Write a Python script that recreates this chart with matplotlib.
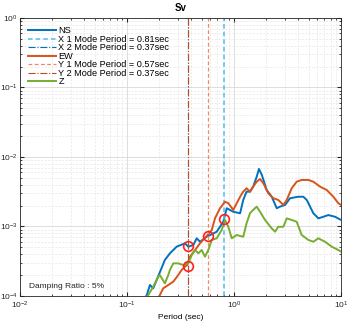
import matplotlib
matplotlib.use('Agg')
import matplotlib.pyplot as plt

# Spectral velocity
ns_period = [0.148, 0.153, 0.164, 0.176, 0.226, 0.252, 0.291, 0.348, 0.374, 0.417,
             0.448, 0.481, 0.556, 0.689, 0.794, 0.855, 0.984, 1.14, 1.22, 1.31,
             1.41, 1.51, 1.63, 1.71, 1.82, 2.02, 2.25, 2.51, 2.69, 3.0,
             3.34, 3.99, 4.44, 4.78, 5.51, 6.14, 6.84, 7.60, 8.79, 10.0]
ns_sv = [0.95e-4, 1.03e-4, 1.44e-4, 1.29e-4, 3.30e-4, 4.11e-4, 5.12e-4, 5.73e-4, 5.12e-4, 5.42e-4,
         6.76e-4, 6.04e-4, 7.13e-4, 8.41e-4, 1.17e-3, 1.83e-3, 1.63e-3, 1.55e-3, 2.41e-3, 3.17e-3,
         3.17e-3, 3.74e-3, 5.21e-3, 6.72e-3, 5.51e-3, 3.35e-3, 2.68e-3, 1.83e-3, 1.93e-3, 2.04e-3,
         2.55e-3, 2.68e-3, 2.68e-3, 2.41e-3, 1.55e-3, 1.31e-3, 1.38e-3, 1.46e-3, 1.38e-3, 1.24e-3]

ew_period = [0.195, 0.203, 0.218, 0.243, 0.271, 0.301, 0.324, 0.348, 0.366, 0.388,
             0.433, 0.481, 0.556, 0.620, 0.664, 0.740, 0.824, 0.885, 0.984, 1.06,
             1.14, 1.22, 1.31, 1.41, 1.51, 1.63, 1.75, 1.88, 2.09, 2.33,
             2.59, 2.89, 3.11, 3.46, 3.85, 4.29, 4.95, 5.51, 6.37, 7.35,
             8.47, 9.44, 10.0]
ew_sv = [0.94e-4, 1.03e-4, 1.29e-4, 1.44e-4, 1.61e-4, 2.0e-4, 2.37e-4, 2.64e-4, 2.79e-4, 3.68e-4,
         4.59e-4, 5.73e-4, 7.3e-4, 8.9e-4, 1.31e-3, 1.83e-3, 2.27e-3, 2.16e-3, 1.73e-3, 2.16e-3,
         2.68e-3, 3.17e-3, 3.55e-3, 3.17e-3, 3.74e-3, 4.41e-3, 4.82e-3, 4.18e-3, 3.0e-3, 2.55e-3,
         2.41e-3, 2.04e-3, 2.41e-3, 3.55e-3, 4.41e-3, 4.67e-3, 4.67e-3, 4.41e-3, 3.74e-3, 3.35e-3,
         2.68e-3, 2.16e-3, 2.04e-3]

z_period = [0.150, 0.158, 0.176, 0.196, 0.203, 0.226, 0.243, 0.252, 0.271, 0.301,
            0.336, 0.374, 0.403, 0.433, 0.464, 0.499, 0.536, 0.575, 0.620, 0.689,
            0.767, 0.824, 0.885, 0.953, 1.06, 1.14, 1.22, 1.31, 1.41, 1.51,
            1.63, 1.75, 1.95, 2.25, 2.42, 2.59, 2.89, 3.11, 3.46, 3.85,
            4.29, 4.95, 5.51, 6.14, 7.08, 8.19, 9.44, 10.0]
z_sv = [0.94e-4, 1.03e-4, 1.36e-4, 1.90e-4, 2.0e-4, 1.52e-4, 2.0e-4, 2.37e-4, 2.95e-4, 2.95e-4,
        2.79e-4, 2.95e-4, 3.89e-4, 4.59e-4, 4.11e-4, 4.59e-4, 3.68e-4, 4.59e-4, 6.4e-4, 6.76e-4,
        8.9e-4, 1.24e-3, 9.9e-4, 6.76e-4, 7.55e-4, 7.3e-4, 7.13e-4, 1.11e-3, 1.55e-3, 1.73e-3,
        1.93e-3, 1.63e-3, 1.24e-3, 9.4e-4, 8.41e-4, 9.9e-4, 9.9e-4, 1.31e-3, 1.24e-3, 1.17e-3,
        7.55e-4, 6.4e-4, 6.04e-4, 6.76e-4, 6.04e-4, 5.12e-4, 4.59e-4, 4.34e-4]

# mode periods and where they hit the spectra
x_modes = [0.81, 0.37]
y_modes = [0.57, 0.37]
mark_period = [0.37, 0.37, 0.57, 0.81]
mark_sv = [5.3e-4, 2.7e-4, 7.3e-4, 1.3e-3]

BLUE = '#0072BD'
LBLUE = '#4DBEEE'
ORANGE = '#D95319'
LORANGE = '#F08A5D'
GREEN = '#77AC30'

FONT = {'size': 6, 'family': 'Liberation Sans'}
matplotlib.rc('font', **FONT)

fig = plt.figure(figsize=(3.56, 3.26), dpi=100)
ax = fig.add_axes([0.056, 0.092, 0.902, 0.853])

ax.plot(ns_period, ns_sv, color=BLUE, lw=1.4, label='NS')
ax.axvline(x_modes[0], color=LBLUE, lw=1.1, ls=(0, (3, 2)),
           label='X 1 Mode Period = %.2fsec' % x_modes[0])
ax.axvline(x_modes[1], color=BLUE, lw=0.8, ls='-.',
           label='X 2 Mode Period = %.2fsec' % x_modes[1])
ax.plot(ew_period, ew_sv, color=ORANGE, lw=1.4, label='EW')
ax.axvline(y_modes[0], color=LORANGE, lw=0.9, ls=(0, (3, 2)),
           label='Y 1 Mode Period = %.2fsec' % y_modes[0])
ax.axvline(y_modes[1], color='#C24A1A', lw=0.8, ls='-.',
           label='Y 2 Mode Period = %.2fsec' % y_modes[1])
ax.plot(z_period, z_sv, color=GREEN, lw=1.4, label='Z')
ax.plot(mark_period, mark_sv, 'o', ms=7, mfc='none', mec='#FF2020', mew=1.2)

ax.set_xscale('log')
ax.set_yscale('log')
ax.set_xlim(1e-2, 10)
ax.set_ylim(1e-4, 1)
ax.grid(True, which='major', color='#d8d8d8', lw=0.6)
ax.grid(True, which='minor', color='#e6e6e6', lw=0.5, ls=(0, (3, 2)))
ax.set_axisbelow(True)
ax.tick_params(which='both', direction='in', top=True, right=True,
               colors='#262626', labelsize=6, pad=1.5)
ax.tick_params(axis='x', which='both', pad=3)
ax.tick_params(which='major', length=3)
ax.tick_params(which='minor', length=1.5)
for s in ax.spines.values():
    s.set_color('#262626')
    s.set_linewidth(0.6)

ax.set_title('Sv', fontsize=7, fontweight='bold', pad=5)
ax.set_xlabel('Period (sec)', fontsize=6, labelpad=2)
ax.text(0.027, 0.03, 'Damping Ratio : 5%', transform=ax.transAxes,
        fontsize=6, color='#262626')

ax.legend(loc='upper left', frameon=False, fontsize=6.6, handlelength=3.0,
          handletextpad=0.3, labelspacing=-0.05, borderaxespad=0.5,
          bbox_to_anchor=(0.0, 1.0))

fig.savefig('out.png', dpi=100)
plt.close(fig)
